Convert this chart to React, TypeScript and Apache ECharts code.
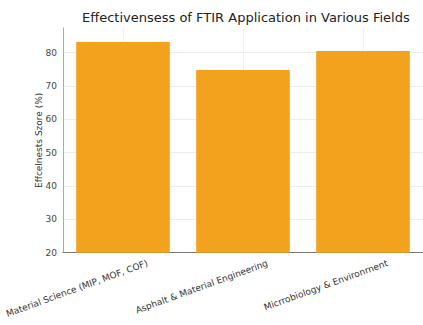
import React, { useEffect, useRef } from "react";
import * as echarts from "echarts";

const categories = [
  "Material Science (MIP, MOF, COF)",
  "Asphalt & Material Engineering",
  "Micrrobiology & Environrnent",
];
const scores = [83.2, 74.8, 80.5];
const yMin = 20;
const yMax = 87.4;
const yInterval = 10;

export default function App() {
  const ref = useRef<HTMLDivElement>(null);
  useEffect(() => {
    if (!ref.current) return;
    const chart = echarts.init(ref.current, undefined, { renderer: "svg" });
    const font = "DejaVu Sans";
    const gridColors = ["#ececec", "#ececec", "#ececec", "#ececec", "#ececec", "#ececec", "#ececec", "rgba(0,0,0,0)"];
    chart.setOption({
      animation: false,
      backgroundColor: "#ffffff",
      title: {
        text: "Effectivensess of FTIR Application in Various Fields",
        left: 77,
        top: 6,
        textStyle: { fontFamily: font, fontSize: 13, fontWeight: "normal", color: "#222" },
      },
      grid: { left: 63, right: 0, top: 28, bottom: 72.3, containLabel: false },
      xAxis: {
        type: "category",
        data: categories,
        axisLine: { show: true, lineStyle: { color: "#777", width: 1 } },
        axisTick: { show: false },
        splitLine: { show: true, alignWithLabel: true, lineStyle: { color: "#f0f0f0", width: 1 } },
        axisLabel: {
          rotate: 20,
          fontFamily: font,
          fontSize: 9,
          color: "#333",
          margin: 19,
          interval: 0,
          padding: [0, -26, 0, 0],
        },
      },
      yAxis: {
        type: "value",
        min: yMin,
        max: yMax,
        interval: yInterval,
        name: "Effcelnests Szore (%)",
        nameLocation: "middle",
        nameGap: 20,
        nameMoveOverlap: false,
        nameTextStyle: { fontFamily: font, fontSize: 9, color: "#333" },
        axisLine: { show: true, lineStyle: { color: "#aaa", width: 1 } },
        axisTick: { show: false },
        axisLabel: { fontFamily: font, fontSize: 9, color: "#444", margin: 6, showMaxLabel: false },
        splitLine: { show: true, lineStyle: { color: gridColors, width: 1 } },
      },
      series: [
        {
          type: "bar",
          data: scores,
          barWidth: "78%",
          itemStyle: { color: "#F3A21E" },
          z: 3,
        },
      ],
    });
    return () => chart.dispose();
  }, []);
  return (
    <div
      ref={ref}
      style={{ position: "fixed", left: 0, top: 0, width: 423, height: 325, background: "#fff" }}
    />
  );
}
